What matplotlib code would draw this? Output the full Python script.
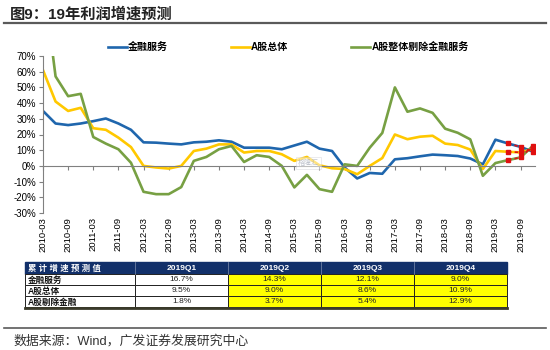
import numpy as np
import matplotlib.pyplot as plt
from matplotlib.patches import Rectangle

plt.rcParams['font.family'] = ['Liberation Sans', 'Noto Sans CJK SC', 'DejaVu Sans']

# 季度标签 2010-03 ... 2019-12
quarters = [f"{y}-{m:02d}" for y in range(2010, 2020) for m in (3, 6, 9, 12)]

# 累计利润增速 (%)
fin = [35, 27, 26, 27, 28.5, 30.2, 27, 23, 15, 14.8, 14.2, 13.7,
       15, 15.4, 16.3, 15.4, 11.6, 11.6, 11.6, 10.6, 13, 15.4, 11, 9.5,
       -1, -8, -4.5, -5, 4.2, 4.9, 6.1, 7.2, 6.8, 6.3, 4.7, 1,
       16.7, 14.3, 12.1, 9.0]
total = [61, 41, 35, 37, 24, 23, 18, 12, 0, -1, -1.7, 0,
         9.5, 11, 13.7, 13.7, 8.5, 9.5, 9.5, 7.4, 3.2, 5.7, 0.4, -1.5,
         -2, -5.3, 0, 5, 20, 17, 18.6, 19.2, 14.2, 13.3, 10.4, -2,
         9.5, 9.0, 8.6, 10.9]
ex_fin = [120, 57, 44.4, 45.9, 18.4, 14.2, 10.6, 2, -16.5, -18, -18, -13.5,
          3.2, 5.7, 10.6, 12.7, 2.5, 6.8, 5.7, 0, -13.7, -5.7, -14.8, -16.5,
          1, 0, 11.6, 21, 50, 34.5, 36.6, 33.8, 23.7, 21.1, 16.9, -6.3,
          1.8, 3.7, 5.4, 12.9]

series_names = ['金融服务', 'A股总体', 'A股整体剔除金融服务']
colors = ['#1f66ad', '#ffc800', '#77a043']
table_rows = ['金融服务', 'A股总体', 'A股剔除金融']
table_cols = ['2019Q1', '2019Q2', '2019Q3', '2019Q4']
n_fcst = 3  # 预测季度数

x = np.arange(len(quarters))
fig = plt.figure(figsize=(5.5, 3.5), dpi=100)
ax = fig.add_axes([43/550, 1-213/350, (535-43)/550, (213-56)/350])

lines = []
for vals, c, name in zip([fin, total, ex_fin], colors, series_names):
    l, = ax.plot(x, vals, color=c, lw=1.9, label=name)
    lines.append(l)
    # 预测部分：红色虚线 + 方块
    ax.plot(x[-n_fcst:], vals[-n_fcst:], color='#e01010', lw=1.2,
            ls=(0, (2, 2)), marker='s', ms=3, zorder=5)

ax.set_xlim(0, 39.15)
ax.set_ylim(-30, 70)
ax.set_yticks(np.arange(-30, 71, 10))
ax.set_yticklabels([f"{v}%" for v in range(-30, 71, 10)], fontsize=7)
ax.tick_params(axis='y', length=3, width=0.8, color='#808080', pad=2)
ax.spines['left'].set_color('#808080')
ax.spines['top'].set_visible(False)
ax.spines['right'].set_visible(False)
ax.spines['bottom'].set_position(('data', 0))
ax.spines['bottom'].set_color('#808080')
ax.set_xticks(x[::2])
ax.tick_params(axis='x', length=3, width=0.8, color='#808080', labelbottom=False)

sec = ax.secondary_xaxis('bottom')
sec.set_xticks(x[::2])
sec.set_xticklabels(quarters[::2], rotation=90, fontsize=6.8)
sec.tick_params(length=0, pad=3)
sec.spines['bottom'].set_visible(False)

# 水印
ax.text(21.1, 1.8, '格隆汇', fontsize=5, color='#9aa0b0', alpha=0.6, ha='center',
        va='center', bbox=dict(fc='white', ec='#c8c8d0', alpha=0.5, lw=0.5, pad=1.5))

fig.legend(lines, series_names, loc='center left', ncol=3, frameon=False,
           bbox_to_anchor=(108/550, 1-47/350), borderpad=0, borderaxespad=0,
           handlelength=1.9, handletextpad=0.1, columnspacing=6.3,
           prop={'size': 7.2, 'weight': 'bold'})

# 标题、脚注和表格
ov = fig.add_axes([0, 0, 1, 1], zorder=-1)
ov.set_xlim(0, 550)
ov.set_ylim(350, 0)
ov.axis('off')
ov.text(10, 14, '图9：19年利润增速预测', fontsize=11, fontweight='bold',
        color='#222222', va='center')
ov.plot([4, 546], [23, 23], color='#5a5a5a', lw=1.6)
ov.plot([4, 546], [328, 328], color='#5a5a5a', lw=1.2)
ov.text(13, 341, '数据来源：Wind，广发证券发展研究中心', fontsize=9.3,
        color='#333333', va='center')

tab = fig.add_axes([0, 0, 1, 1], zorder=3)
tab.set_xlim(0, 550)
tab.set_ylim(350, 0)
tab.axis('off')
col_edges = [25, 135, 228, 321, 414, 507]
row_edges = [262, 274, 285, 296, 307]
navy = '#12306a'
# 表头
tab.add_patch(Rectangle((col_edges[0], row_edges[0]), col_edges[-1]-col_edges[0],
                        row_edges[1]-row_edges[0], fc=navy, ec=navy))
tab.text(col_edges[0]+3, (row_edges[0]+row_edges[1])/2 + 0.5, '累 计 增 速 预 测 值',
         color='white', fontsize=6, fontweight='bold', ha='left', va='center')
for j, c in enumerate(table_cols):
    tab.text((col_edges[j+1]+col_edges[j+2])/2, (row_edges[0]+row_edges[1])/2, c,
             color='white', fontsize=6, fontweight='bold', ha='center', va='center')
for i, (rname, vals) in enumerate(zip(table_rows, [fin, total, ex_fin])):
    y0, y1 = row_edges[i+1], row_edges[i+2]
    for j in range(5):
        fc = 'white' if j < 2 else '#ffff00'
        tab.add_patch(Rectangle((col_edges[j], y0), col_edges[j+1]-col_edges[j], y1-y0,
                                fc=fc, ec='#222222', lw=0.7))
    tab.text(col_edges[0]+3, (y0+y1)/2 + 0.5, rname,
             fontsize=6.2, fontweight='bold', ha='left', va='center', color='#111111')
    for j, v in enumerate(vals[-4:]):
        tab.text((col_edges[j+1]+col_edges[j+2])/2, (y0+y1)/2, f"{v:.1f}%",
                 fontsize=6, ha='center', va='center', color='#222222')
tab.plot([col_edges[0], col_edges[-1]], [row_edges[-1]+1, row_edges[-1]+1],
         color='#3a3a2a', lw=2)
for xe in col_edges[1:-1]:
    tab.plot([xe, xe], [row_edges[0], row_edges[1]], color='#8090b0', lw=0.5)

fig.savefig('out.png', dpi=100)
